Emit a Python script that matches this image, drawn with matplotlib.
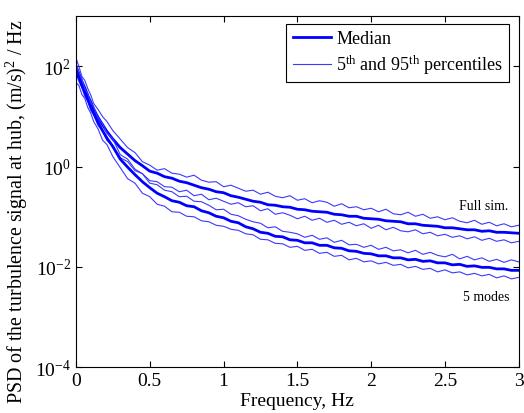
import numpy as np
import matplotlib
matplotlib.use('Agg')
import matplotlib.pyplot as plt
from matplotlib.ticker import NullLocator

# 频率 (Hz)
freq = [0.00, 0.02, 0.04, 0.06, 0.08, 0.10, 0.12, 0.15, 0.18, 0.21, 0.25, 0.30, 0.35, 0.40, 0.45, 0.50,
        0.55, 0.60, 0.65, 0.70, 0.75, 0.80, 0.85, 0.90, 0.95, 1.00, 1.05, 1.10, 1.15, 1.20,
        1.25, 1.30, 1.35, 1.40, 1.45, 1.50, 1.55, 1.60, 1.65, 1.70, 1.75, 1.80, 1.85, 1.90,
        1.95, 2.00, 2.05, 2.10, 2.15, 2.20, 2.25, 2.30, 2.35, 2.40, 2.45, 2.50, 2.55, 2.60,
        2.65, 2.70, 2.75, 2.80, 2.85, 2.90, 2.95, 3.00]

# PSD 的 log10 值 -- full simulation
full_med = [2.00, 1.86, 1.70, 1.57, 1.42, 1.29, 1.15, 0.98, 0.84, 0.70, 0.55, 0.38, 0.25, 0.12, 0.02, -0.09,
            -0.13, -0.20, -0.23, -0.29, -0.32, -0.37, -0.42, -0.45, -0.50, -0.52, -0.58, -0.61, -0.65, -0.69,
            -0.71, -0.76, -0.77, -0.80, -0.81, -0.85, -0.86, -0.89, -0.90, -0.91, -0.95, -0.96, -0.99, -0.99,
            -1.03, -1.04, -1.05, -1.08, -1.09, -1.10, -1.14, -1.14, -1.17, -1.18, -1.19, -1.22, -1.22, -1.24,
            -1.26, -1.26, -1.29, -1.28, -1.31, -1.31, -1.32, -1.33]
full_hi = [2.17, 2.00, 1.80, 1.72, 1.56, 1.43, 1.26, 1.14, 1.00, 0.90, 0.72, 0.55, 0.38, 0.28, 0.10, 0.03,
           -0.07, -0.04, -0.13, -0.15, -0.21, -0.17, -0.27, -0.31, -0.30, -0.40, -0.37, -0.43, -0.49, -0.47,
           -0.55, -0.51, -0.59, -0.62, -0.58, -0.67, -0.64, -0.72, -0.68, -0.71, -0.79, -0.74, -0.82, -0.80,
           -0.86, -0.83, -0.90, -0.85, -0.94, -0.96, -0.91, -0.99, -0.95, -1.03, -1.00, -1.06, -1.02, -1.09,
           -1.12, -1.07, -1.15, -1.11, -1.18, -1.14, -1.20, -1.17]
full_lo = [1.85, 1.70, 1.58, 1.40, 1.30, 1.12, 1.03, 0.82, 0.71, 0.52, 0.42, 0.18, 0.10, -0.08, -0.14, -0.28,
           -0.30, -0.40, -0.41, -0.50, -0.47, -0.58, -0.55, -0.66, -0.63, -0.69, -0.75, -0.72, -0.80, -0.78,
           -0.88, -0.84, -0.95, -0.92, -0.97, -1.04, -0.99, -1.07, -1.03, -1.11, -1.07, -1.15, -1.11, -1.18,
           -1.14, -1.23, -1.17, -1.26, -1.21, -1.28, -1.30, -1.26, -1.34, -1.31, -1.38, -1.35, -1.41, -1.38,
           -1.44, -1.40, -1.47, -1.43, -1.49, -1.46, -1.52, -1.49]

# PSD 的 log10 值 -- 5 modes
modes_med = [1.90, 1.78, 1.62, 1.48, 1.34, 1.20, 1.07, 0.88, 0.72, 0.57, 0.40, 0.15, -0.01, -0.16, -0.30, -0.42,
             -0.53, -0.60, -0.68, -0.71, -0.78, -0.80, -0.88, -0.92, -0.99, -1.02, -1.09, -1.12, -1.20, -1.24,
             -1.31, -1.33, -1.39, -1.40, -1.46, -1.47, -1.52, -1.52, -1.57, -1.57, -1.62, -1.63, -1.68, -1.69,
             -1.73, -1.74, -1.78, -1.78, -1.82, -1.82, -1.86, -1.85, -1.89, -1.88, -1.92, -1.92, -1.96, -1.95,
             -1.99, -1.98, -2.01, -2.01, -2.04, -2.04, -2.07, -2.07]
modes_hi = [2.06, 1.88, 1.74, 1.56, 1.46, 1.28, 1.19, 0.97, 0.86, 0.67, 0.55, 0.24, 0.15, -0.05, -0.14, -0.33,
            -0.36, -0.47, -0.50, -0.60, -0.59, -0.69, -0.70, -0.77, -0.86, -0.85, -0.95, -0.98, -1.05, -1.10,
            -1.13, -1.22, -1.20, -1.29, -1.31, -1.34, -1.41, -1.37, -1.45, -1.42, -1.51, -1.47, -1.56, -1.55,
            -1.61, -1.57, -1.65, -1.61, -1.68, -1.66, -1.72, -1.67, -1.75, -1.71, -1.77, -1.80, -1.75, -1.84,
            -1.79, -1.86, -1.82, -1.89, -1.85, -1.91, -1.86, -1.90]
modes_lo = [1.68, 1.62, 1.44, 1.36, 1.18, 1.07, 0.90, 0.75, 0.53, 0.44, 0.20, -0.02, -0.24, -0.33, -0.53, -0.60,
            -0.75, -0.79, -0.90, -0.91, -0.99, -1.00, -1.08, -1.10, -1.17, -1.19, -1.25, -1.27, -1.34, -1.36,
            -1.45, -1.46, -1.53, -1.54, -1.61, -1.59, -1.67, -1.65, -1.73, -1.71, -1.79, -1.77, -1.86, -1.83,
            -1.90, -1.88, -1.94, -1.91, -1.97, -1.95, -2.02, -1.99, -2.05, -2.03, -2.10, -2.06, -2.12, -2.10,
            -2.16, -2.13, -2.18, -2.15, -2.22, -2.18, -2.24, -2.21]

if __name__ == '__main__':
    plt.rcParams['font.family'] = ['Liberation Serif', 'DejaVu Serif']
    plt.rcParams['mathtext.default'] = 'regular'
    plt.rcParams['font.size'] = 14

    fig = plt.figure(figsize=(5.24, 4.14), dpi=100)
    ax = fig.add_axes([0.145, 0.111, 0.845, 0.847])

    thick = '#0000ff'
    thin = '#3a3aff'
    # Full sim.
    ax.plot(freq, 10 ** np.array(full_med), color=thick, lw=2.0, label='Median')
    ax.plot(freq, 10 ** np.array(full_hi), color=thin, lw=0.8,
            label='5$^{th}$ and 95$^{th}$ percentiles')
    ax.plot(freq, 10 ** np.array(full_lo), color=thin, lw=0.8)
    # 5 modes
    ax.plot(freq, 10 ** np.array(modes_med), color=thick, lw=2.0)
    ax.plot(freq, 10 ** np.array(modes_hi), color=thin, lw=0.8)
    ax.plot(freq, 10 ** np.array(modes_lo), color=thin, lw=0.8)

    ax.set_yscale('log')
    ax.set_xlim(0, 3)
    ax.set_ylim(1e-4, 1e3)
    ax.set_xticks([0, 0.5, 1, 1.5, 2, 2.5, 3])
    ax.set_xticklabels(['0', '0.5', '1', '1.5', '2', '2.5', '3'])
    ax.set_yticks([1e-4, 1e-2, 1e0, 1e2])
    ax.yaxis.set_minor_locator(NullLocator())
    ax.tick_params(direction='in', top=True, right=True, length=4, width=0.8)

    ax.set_xlabel('Frequency, Hz', labelpad=2)
    ax.set_ylabel('PSD of the turbulence signal at hub, (m/s)$^2$ / Hz', fontsize=14.4)
    ax.yaxis.set_label_coords(-0.103, 0.445)

    ax.text(2.76, 0.166, 'Full sim.', fontsize=10, ha='center', va='center')
    ax.text(2.78, 0.0026, '5 modes', fontsize=10, ha='center', va='center')

    leg = ax.legend(loc='upper right', bbox_to_anchor=(0.978, 0.979), borderaxespad=0,
                    fancybox=False, edgecolor='black', framealpha=1, fontsize=13,
                    handlelength=2.1, handletextpad=0.3, labelspacing=0.3, borderpad=0.35)
    leg.get_frame().set_linewidth(0.8)

    plt.savefig('out.png', dpi=100)
